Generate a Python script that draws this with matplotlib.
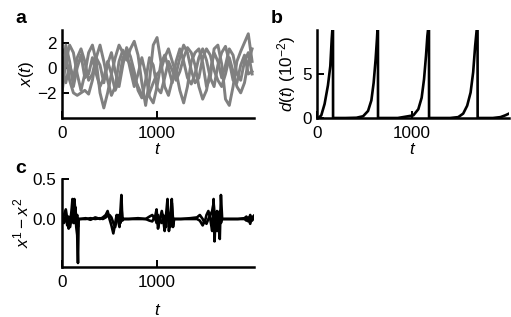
import numpy as np
import matplotlib
matplotlib.use("Agg")
import matplotlib.pyplot as plt

plt.rcParams['font.family'] = ['Liberation Sans', 'DejaVu Sans']
plt.rcParams['mathtext.fontset'] = 'custom'
plt.rcParams['mathtext.rm'] = 'Liberation Sans'
plt.rcParams['mathtext.it'] = 'Liberation Sans:italic'
plt.rcParams['mathtext.bf'] = 'Liberation Sans:bold'

# ---------------- data ----------------
# panel a: state variables (sampled every 40 time units)
a_t = list(range(0, 2001, 40))
xa = [-2.0, 0.5, 1.8, 1.2, -0.5, -1.8, -0.5, 1.2, 1.8, 0.5, -2.0, -3.2, -2.0, -0.5, 0.8, 1.8,
      1.2, 0.6, 1.5, 2.1, 1.0, -1.2, -3.0, -1.0, 1.8, 2.4, 0.5, -1.5, -2.2, -1.0, -0.3, -1.8,
      -2.8, -1.5, 0.5, 1.2, 1.5, 0.4, -1.5, -0.8, 1.5, 1.8, 0.3, -2.5, -3.0, -1.5, 0.5, 1.3,
      2.0, 2.7, 0.5]
xb = [1.5, 1.0, -1.0, -2.0, -2.2, -2.0, -1.8, -2.1, -1.0, 0.8, 1.8, 0.5, -1.0, -2.2, -1.5, 0.5,
      1.4, 0.8, 0.2, -0.8, -1.5, -2.2, -2.5, -2.0, -1.2, -0.5, -0.2, 0.8, 1.5, 0.5, -0.5, 0.8,
      1.8, 1.2, -0.2, -1.2, -0.8, 0.8, 1.5, 1.0, -0.2, -1.0, -1.5, -0.5, 0.8, -0.3, -1.5, -2.0,
      -1.2, 0.5, 1.5]
xc = [0.0, -1.2, 0.2, -0.8, 0.8, 1.5, 0.5, -1.0, -0.5, 0.8, 0.2, -1.2, 0.3, 1.2, -0.3, -1.5,
      0.2, 1.6, 0.9, -0.3, -1.8, -2.4, -1.0, 0.8, 0.2, -1.6, -2.0, -0.8, 0.5, -0.2, -1.0, -0.3,
      0.8, 1.6, 1.2, 0.2, -1.5, -2.5, -1.8, -0.2, 1.2, 0.5, -0.8, 0.2, 1.5, 1.0, -0.5, -1.0,
      0.5, 1.2, -0.5]
xd = [-1.0, 1.8, 0.5, -1.5, 0.0, 1.0, -0.8, -0.5, 0.8, -0.5, -1.5, -0.8, 0.5, -0.5, -1.8, -1.0,
      0.8, 1.2, -0.2, -1.5, -0.5, 0.8, -0.5, -2.3, -2.8, -1.5, 0.3, 1.0, 0.0, -1.2, 0.5, 1.5,
      0.5, -0.8, -1.3, -0.5, 0.8, 1.5, 0.6, -0.8, -1.5, 0.2, 1.2, 1.7, 0.5, -1.0, -1.2, 0.2,
      1.0, -0.5, -0.3]

# panel b: distance d(t) in units of 1e-2
b_t = [0, 20, 45, 80, 115, 140, 155, 168, 169, 300, 415, 485, 537, 572, 596, 617, 631, 641, 642,
       850, 1014, 1066, 1101, 1126, 1147, 1161, 1178, 1179, 1400, 1486, 1538, 1580, 1616, 1643,
       1664, 1689, 1690, 1850, 1930, 1980, 2020]
b_d = [0.0, 0.05, 0.3, 1.6, 3.7, 5.9, 9.0, 11.0, 0.0, 0.0, 0.03, 0.2, 0.8, 2.0, 4.0, 6.7, 9.0, 11.0, 0.0,
       0.0, 0.3, 1.0, 2.3, 4.4, 7.1, 9.3, 11.0, 0.0, 0.0, 0.1, 0.5, 1.4, 2.9, 5.2,
       8.2, 11.0, 0.0, 0.0, 0.1, 0.3, 0.5]

# panel c: synchronization error
c_t = [0, 20, 40, 55, 70, 85, 100, 110, 120, 130, 140, 150, 160, 168, 175, 190, 250, 300, 350, 400,
       430, 460, 480, 500, 520, 540, 560, 575, 590, 605, 615, 625, 635, 645, 660, 700, 800, 880,
       920, 950, 975, 995, 1010, 1030, 1050, 1065, 1080, 1095, 1110, 1125, 1140, 1155, 1168, 1180,
       1250, 1350, 1420, 1450, 1480, 1500, 1520, 1540, 1560, 1580, 1595, 1605, 1615, 1630, 1645,
       1660, 1672, 1685, 1750, 1850, 1920, 1940, 1960, 1980, 2000, 2020]
c1 = [0.0, 0.05, 0.12, 0.0, -0.12, -0.05, 0.1, 0.25, -0.05, 0.25, 0.1, -0.1, -0.2, -0.55, 0.0, 0.0,
      0.01, -0.01, 0.02, 0.0, 0.02, 0.05, 0.1, 0.0, -0.08, -0.18, -0.05, 0.05, -0.02, -0.1, 0.1,
      0.3, -0.02, 0.0, 0.0, 0.0, 0.01, 0.0, 0.03, 0.05, 0.0, 0.12, -0.12, 0.0, 0.1, 0.0, -0.15,
      0.05, 0.25, -0.15, 0.0, 0.25, -0.1, 0.0, 0.0, 0.01, 0.02, 0.05, 0.0, -0.05, 0.05, 0.1, 0.0,
      -0.15, 0.25, -0.28, 0.0, 0.1, -0.05, -0.25, 0.3, 0.0, 0.0, 0.0, 0.01, 0.03, -0.03, 0.05,
      -0.02, 0.04]
c2 = [0.0, -0.05, 0.05, -0.08, 0.03, -0.1, 0.02, 0.15, 0.1, -0.05, 0.15, 0.0, 0.05, -0.1, 0.0, 0.0,
      0.0, 0.01, 0.0, 0.01, 0.0, 0.02, 0.04, 0.05, 0.02, -0.05, -0.1, 0.0, 0.05, 0.0, -0.05, 0.15,
      0.0, 0.0, 0.0, 0.0, 0.0, 0.0, -0.02, -0.03, 0.03, -0.05, 0.05, -0.03, -0.05, 0.05, -0.02,
      -0.1, 0.1, 0.05, -0.1, 0.2, 0.0, 0.0, 0.0, 0.0, 0.0, -0.02, -0.08, -0.02, -0.06, 0.0, 0.05,
      0.1, 0.2, 0.05, -0.1, -0.15, 0.05, 0.1, -0.05, 0.0, 0.0, 0.0, 0.0, -0.02, 0.02, -0.06,
      0.03, 0.0]

# ---------------- figure ----------------
W, H = 511, 317
fig = plt.figure(figsize=(W / 100, H / 100), dpi=100)

def px_axes(x0, x1, y0, y1):
    return fig.add_axes([x0 / W, 1 - y1 / H, (x1 - x0) / W, (y1 - y0) / H])

axa = px_axes(62, 254, 30, 118)
axb = px_axes(317, 509, 30, 118)
axc = px_axes(62, 254, 179, 267)

FS = 12.3
for ax in (axa, axb, axc):
    for s in ('top', 'right'):
        ax.spines[s].set_visible(False)
    for s in ('left', 'bottom'):
        ax.spines[s].set_linewidth(1.8)
    ax.tick_params(direction='in', length=5, width=1.4, labelsize=FS, pad=4)
    ax.tick_params(axis='x', pad=6)
    ax.set_xlim(0, 2020)
    ax.set_xticks([0, 1000])

# panel a
grey = '#808080'
for series in (xa, xb, xc, xd):
    axa.plot(a_t, series, color=grey, lw=2.1, solid_joinstyle='round')
axa.set_ylim(-4.0, 3.0)
axa.set_yticks([-2, 0, 2])
axa.set_yticklabels(['\u22122', '0', '2'])
axa.set_ylabel('$x(t)$', fontsize=FS, labelpad=1)
axa.set_xlabel('$t$', fontsize=FS, labelpad=0.5)

# panel b
axb.plot(b_t, b_d, color='black', lw=1.9)
axb.set_ylim(0, 10)
axb.set_yticks([0, 5])
axb.set_ylabel('$d(t)$ $(10^{-2})$', fontsize=FS, labelpad=3)
axb.set_xlabel('$t$', fontsize=FS, labelpad=0.5)

# panel c
axc.plot(c_t, c1, color='black', lw=1.9)
axc.plot(c_t, c2, color='black', lw=1.9)
axc.set_ylim(-0.6, 0.5)
axc.set_yticks([0.0, 0.5])
axc.set_yticklabels(['0.0', '0.5'])
axc.set_ylabel('$x^1 - x^2$', fontsize=FS, labelpad=1)
axc.set_xlabel('$t$', fontsize=FS, labelpad=9)

fig.text(15 / W, 1 - 23 / H, 'a', fontsize=14, fontweight='bold')
fig.text(271 / W, 1 - 23 / H, 'b', fontsize=14, fontweight='bold')
fig.text(15 / W, 1 - 173 / H, 'c', fontsize=14, fontweight='bold')

fig.savefig('out.png', dpi=100)
